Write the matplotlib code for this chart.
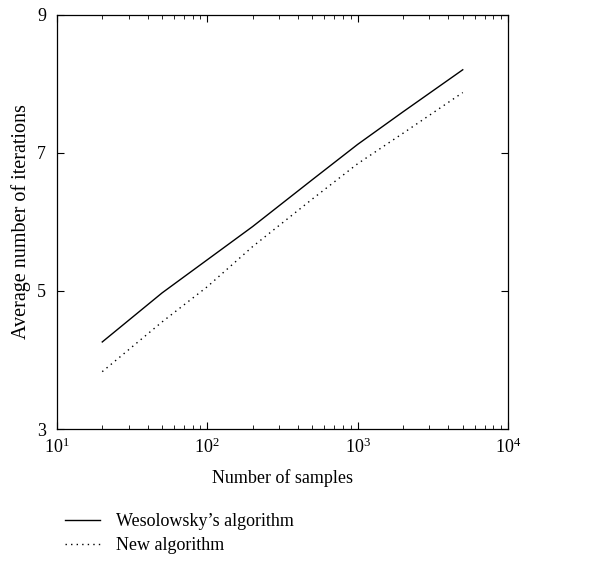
#!/usr/bin/env python3
"""Average number of iterations vs number of samples (log x)."""
import matplotlib
matplotlib.use("Agg")
import matplotlib.pyplot as plt
from matplotlib.ticker import LogLocator, NullFormatter, FixedLocator

plt.rcParams["font.family"] = ["Liberation Serif", "DejaVu Serif"]
plt.rcParams["mathtext.fontset"] = "custom"
plt.rcParams["mathtext.rm"] = "Liberation Serif"
plt.rcParams["mathtext.it"] = "Liberation Serif:italic"

samples = [20, 50, 100, 200, 500, 1000, 2000, 5000]
wesolowsky = [4.26, 4.97, 5.45, 5.93, 6.61, 7.12, 7.59, 8.20]
new_algo = [3.83, 4.55, 5.06, 5.64, 6.33, 6.84, 7.28, 7.87]

SERIES_LABELS = ["Wesolowsky\u2019s algorithm", "New algorithm"]


def main() -> None:
    fig = plt.figure(figsize=(6.1, 5.65), dpi=100)
    ax = fig.add_axes([57 / 610, 1 - 429 / 565, (508 - 57) / 610, (429 - 14.5) / 565])

    ax.plot(samples, wesolowsky, color="black", linewidth=1.0, label=SERIES_LABELS[0])
    ax.plot(samples, new_algo, color="black", linewidth=1.0, linestyle=(0, (1, 3)),
            label=SERIES_LABELS[1])

    ax.set_xscale("log")
    ax.set_xlim(10, 1e4)
    ax.set_ylim(3, 9)
    ax.yaxis.set_major_locator(FixedLocator([3, 5, 7, 9]))
    ax.xaxis.set_major_locator(LogLocator(base=10))
    ax.xaxis.set_minor_locator(LogLocator(base=10, subs=range(2, 10)))
    ax.xaxis.set_minor_formatter(NullFormatter())

    ax.tick_params(which="both", direction="in", top=True, right=True, labelsize=13)
    ax.tick_params(which="major", length=5, width=0.8)
    ax.tick_params(which="minor", length=3, width=0.6)
    ax.tick_params(axis="x", pad=6)
    ax.tick_params(axis="y", pad=8)
    for s in ax.spines.values():
        s.set_linewidth(0.9)

    ax.set_xlabel("Number of samples", fontsize=13, labelpad=9)
    ax.set_ylabel("Average number of iterations", fontsize=14.5, labelpad=4)

    fig.legend(loc="upper left", bbox_to_anchor=(65 / 610, 1 - 513 / 565), frameon=False,
               fontsize=13, handlelength=1.95, handletextpad=0.85, borderpad=0,
               borderaxespad=0, labelspacing=0.4)

    fig.savefig("out.png", dpi=100)
    plt.close(fig)


if __name__ == "__main__":
    main()
